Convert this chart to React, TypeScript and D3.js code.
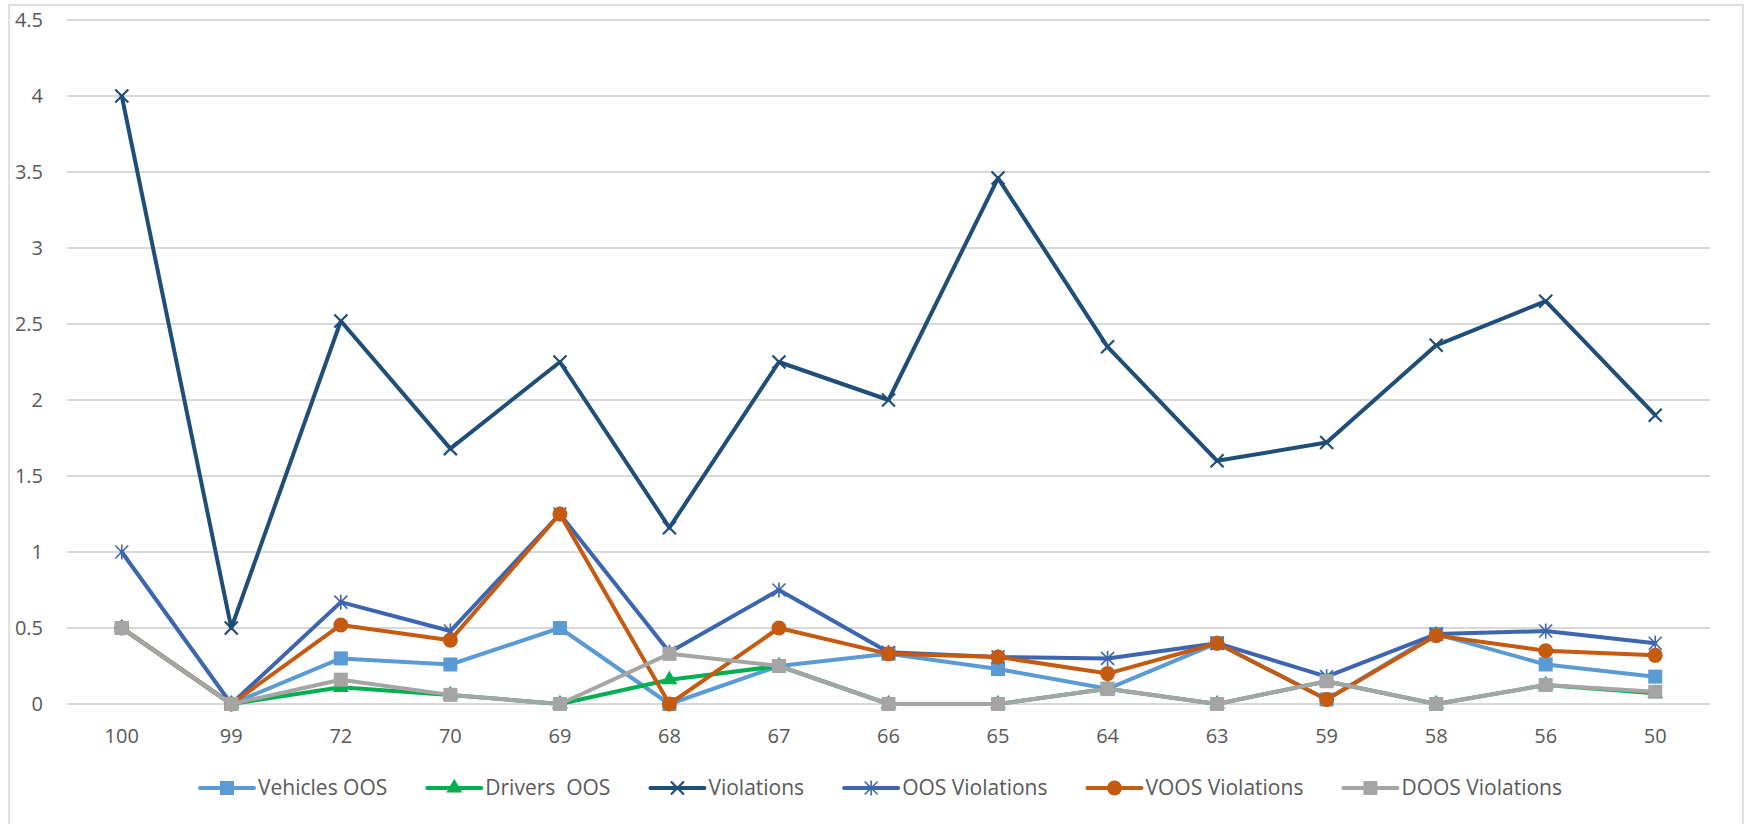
import { useEffect, useRef } from 'react';
import * as d3 from 'd3';

const CATEGORIES = ['100', '99', '72', '70', '69', '68', '67', '66', '65', '64', '63', '59', '58', '56', '50'];
const VEHICLES_OOS = [0.5, 0, 0.3, 0.26, 0.5, 0, 0.25, 0.33, 0.23, 0.1, 0.4, 0.03, 0.46, 0.26, 0.18];
const DRIVERS_OOS = [0.5, 0, 0.11, 0.06, 0, 0.16, 0.25, 0, 0, 0.1, 0, 0.15, 0, 0.125, 0.07];
const VIOLATIONS = [4, 0.5, 2.52, 1.68, 2.25, 1.16, 2.25, 2, 3.46, 2.35, 1.6, 1.72, 2.36, 2.65, 1.9];
const OOS_VIOLATIONS = [1, 0, 0.67, 0.48, 1.25, 0.34, 0.75, 0.34, 0.31, 0.3, 0.4, 0.18, 0.46, 0.48, 0.4];
const VOOS_VIOLATIONS = [0.5, 0, 0.52, 0.42, 1.25, 0, 0.5, 0.33, 0.31, 0.2, 0.4, 0.03, 0.45, 0.35, 0.32];
const DOOS_VIOLATIONS = [0.5, 0, 0.16, 0.06, 0, 0.33, 0.25, 0, 0, 0.1, 0, 0.15, 0, 0.125, 0.08];
const Y_TICKS = [0, 0.5, 1, 1.5, 2, 2.5, 3, 3.5, 4, 4.5];

const SERIES = [
  { name: 'Vehicles OOS', values: VEHICLES_OOS, color: '#5B9BD5', marker: 'square' },
  { name: 'Drivers  OOS', values: DRIVERS_OOS, color: '#00B050', marker: 'triangle' },
  { name: 'Violations', values: VIOLATIONS, color: '#1F4E79', marker: 'x' },
  { name: 'OOS Violations', values: OOS_VIOLATIONS, color: '#3D65B0', marker: 'star' },
  { name: 'VOOS Violations', values: VOOS_VIOLATIONS, color: '#C55A11', marker: 'circle' },
  { name: 'DOOS Violations', values: DOOS_VIOLATIONS, color: '#A5A5A5', marker: 'square' },
];

const WIDTH = 1744;
const HEIGHT = 824;
const FONT = '"Open Sans", "Noto Sans", sans-serif';
const TEXT_COLOR = '#595959';
const GRID_COLOR = '#D9D9D9';

// draws one marker centred on 0,0 into the given group
function drawMarker(g, type, color) {
  if (type === 'square') {
    g.append('rect').attr('x', -7).attr('y', -7).attr('width', 14).attr('height', 14).attr('fill', color);
  } else if (type === 'circle') {
    g.append('circle').attr('r', 7.5).attr('fill', color);
  } else if (type === 'triangle') {
    g.append('path').attr('d', d3.symbol(d3.symbolTriangle, 110)()).attr('fill', color);
  } else {
    const s = 6.5;
    const lines = [[-s, -s, s, s], [-s, s, s, -s]];
    if (type === 'star') lines.push([0, -s - 1, 0, s + 1]);
    lines.forEach(([x1, y1, x2, y2]) =>
      g.append('line').attr('x1', x1).attr('y1', y1).attr('x2', x2).attr('y2', y2)
        .attr('stroke', color).attr('stroke-width', type === 'star' ? 1.6 : 2.2)
    );
  }
}

export default function App() {
  const svgRef = useRef(null);

  useEffect(() => {
    const svg = d3.select(svgRef.current);
    svg.selectAll('*').remove();

    const x = d3.scaleBand().domain(CATEGORIES).range([67, 1710]);
    const y = d3.scaleLinear().domain([0, 4.5]).range([704, 20]);

    // chart area border
    svg.append('rect')
      .attr('x', 9).attr('y', 5).attr('width', WIDTH - 10).attr('height', HEIGHT + 20)
      .attr('fill', '#fff').attr('stroke', GRID_COLOR).attr('stroke-width', 1.6);

    // gridlines
    svg.append('g')
      .selectAll('line')
      .data(Y_TICKS)
      .join('line')
      .attr('x1', 67).attr('x2', 1710)
      .attr('y1', d => y(d)).attr('y2', d => y(d))
      .attr('stroke', GRID_COLOR).attr('stroke-width', 1.8);

    // y axis labels
    svg.append('g')
      .selectAll('text')
      .data(Y_TICKS)
      .join('text')
      .attr('x', 43).attr('y', d => y(d)).attr('dy', '0.35em')
      .attr('text-anchor', 'end')
      .attr('font-family', FONT).attr('font-size', 20).attr('fill', TEXT_COLOR)
      .text(d => String(d));

    // x axis labels
    svg.append('g')
      .selectAll('text')
      .data(CATEGORIES)
      .join('text')
      .attr('x', d => x(d) + x.bandwidth() / 2).attr('y', 736).attr('dy', '0.35em')
      .attr('text-anchor', 'middle')
      .attr('font-family', FONT).attr('font-size', 20).attr('fill', TEXT_COLOR)
      .text(d => d);

    const line = d3.line()
      .x((d, i) => x(CATEGORIES[i]) + x.bandwidth() / 2)
      .y(d => y(d));

    SERIES.forEach(s => {
      const g = svg.append('g');
      g.append('path')
        .attr('d', line(s.values))
        .attr('fill', 'none')
        .attr('stroke', s.color)
        .attr('stroke-width', 4)
        .attr('stroke-linejoin', 'round')
        .attr('stroke-linecap', 'round');
      s.values.forEach((v, i) => {
        const m = g.append('g')
          .attr('transform', `translate(${x(CATEGORIES[i]) + x.bandwidth() / 2},${y(v)})`);
        drawMarker(m, s.marker, s.color);
      });
    });

    // legend, laid out from the measured text widths
    const legend = svg.append('g');
    const items = SERIES.map(s => {
      const item = legend.append('g');
      item.append('line')
        .attr('x1', 0).attr('x2', 54).attr('y1', 0).attr('y2', 0)
        .attr('stroke', s.color).attr('stroke-width', 4).attr('stroke-linecap', 'round');
      drawMarker(item.append('g').attr('transform', 'translate(27,0)'), s.marker, s.color);
      const t = item.append('text')
        .attr('x', 58).attr('dy', '0.35em')
        .attr('font-family', FONT).attr('font-size', 21).attr('fill', TEXT_COLOR)
        .style('white-space', 'pre')
        .text(s.name);
      const w = 58 + t.node().getComputedTextLength();
      return { item, w };
    });
    const gap = 40;
    const total = d3.sum(items, d => d.w) + gap * (items.length - 1);
    let cx = 881 - total / 2;
    items.forEach(({ item, w }) => {
      item.attr('transform', `translate(${cx},788)`);
      cx += w + gap;
    });
  }, []);

  return (
    <svg
      ref={svgRef}
      width={WIDTH}
      height={HEIGHT}
      viewBox={`0 0 ${WIDTH} ${HEIGHT}`}
      style={{ position: 'absolute', left: 0, top: 0, display: 'block', background: '#fff' }}
    />
  );
}
